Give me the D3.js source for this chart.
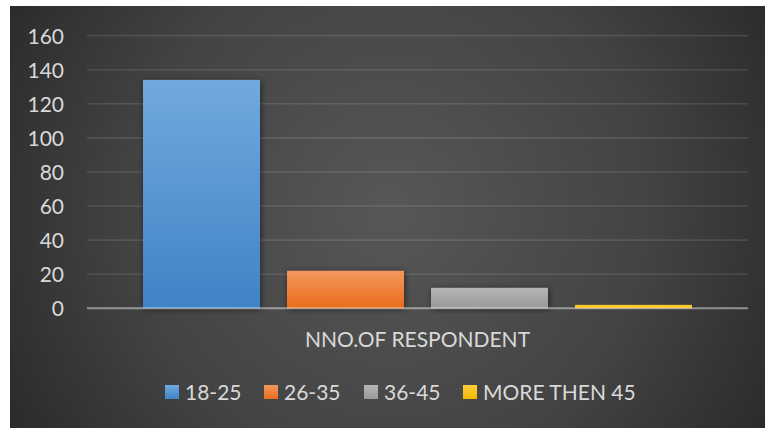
<!DOCTYPE html>
<html>
<head>
<meta charset="utf-8">
<script src="https://cdn.jsdelivr.net/npm/d3@7"></script>
<style>
  html, body { margin: 0; padding: 0; background: #ffffff; }
  svg { display: block; }
  text { font-family: Lato, "Open Sans", sans-serif; fill: #d9d9d9; }
</style>
</head>
<body>
<svg id="chart" width="765" height="428"></svg>
<script>
// Respondents by age group
const categories = ["NNO.OF RESPONDENT"];
const series = ["18-25", "26-35", "36-45", "MORE THEN 45"];
const values = [134, 22, 12, 2];
const yTicks = [0, 20, 40, 60, 80, 100, 120, 140, 160];
const colorsTop = ["#72a9de", "#f4975e", "#b5b5b5", "#ffcf3a"];
const colorsBottom = ["#3f83c6", "#e86c1a", "#999999", "#f2b800"];

const W = 765, H = 428;
const svg = d3.select("#chart");
const defs = svg.append("defs");

// background: dark with a soft lighter centre
const bg = defs.append("radialGradient").attr("id", "bg")
  .attr("gradientUnits", "userSpaceOnUse")
  .attr("cx", 390).attr("cy", 210).attr("r", 470);
bg.append("stop").attr("offset", "0").attr("stop-color", "#575757");
bg.append("stop").attr("offset", "0.55").attr("stop-color", "#434343");
bg.append("stop").attr("offset", "1").attr("stop-color", "#262626");

series.forEach((s, i) => {
  const g = defs.append("linearGradient").attr("id", "bar" + i)
    .attr("x1", 0).attr("y1", 0).attr("x2", 0).attr("y2", 1);
  g.append("stop").attr("offset", "0").attr("stop-color", colorsTop[i]);
  g.append("stop").attr("offset", "1").attr("stop-color", colorsBottom[i]);
});

const shadow = defs.append("filter").attr("id", "shadow")
  .attr("x", "-20%").attr("y", "-20%").attr("width", "140%").attr("height", "140%");
shadow.append("feDropShadow").attr("dx", 1).attr("dy", 1)
  .attr("stdDeviation", 3).attr("flood-color", "#000").attr("flood-opacity", 0.55);

svg.append("rect").attr("x", 10).attr("y", 6)
  .attr("width", W - 10).attr("height", H - 6).attr("fill", "url(#bg)");

const plot = { left: 87, right: 748, top: 35.6, bottom: 308.3 };

const y = d3.scaleLinear().domain([0, 160]).range([plot.bottom, plot.top]);
const x0 = d3.scaleBand().domain(categories).range([plot.left, plot.right]).padding(0);
const x1 = d3.scaleBand().domain(series).range([0, x0.bandwidth()])
  .paddingInner(0.1875).paddingOuter(0.389);

// gridlines and tick labels
const yAxis = d3.axisLeft(y).tickValues(yTicks).tickSize(0).tickPadding(0);
const gy = svg.append("g").attr("transform", `translate(64,0)`).call(yAxis);
gy.select(".domain").remove();
gy.selectAll("text").attr("font-size", 21).attr("fill", "#d9d9d9")
  .attr("dy", "0.36em").attr("text-anchor", "end")
  .style("font-family", "Lato, 'Open Sans', sans-serif");

svg.append("g").selectAll("line").data(yTicks.filter(t => t > 0)).join("line")
  .attr("x1", plot.left).attr("x2", plot.right)
  .attr("y1", d => y(d)).attr("y2", d => y(d))
  .attr("stroke", "rgba(255,255,255,0.11)").attr("stroke-width", 1.6);

// bars
const groups = svg.append("g").selectAll("g").data(categories).join("g")
  .attr("transform", d => `translate(${x0(d)},0)`);
groups.selectAll("rect").data(() => series.map((s, i) => ({ s, v: values[i], i })))
  .join("rect")
  .attr("x", d => x1(d.s)).attr("width", x1.bandwidth())
  .attr("y", d => y(d.v)).attr("height", d => y(0) - y(d.v))
  .attr("fill", d => `url(#bar${d.i})`)
  .attr("filter", "url(#shadow)");

// baseline
svg.append("line").attr("x1", plot.left).attr("x2", plot.right)
  .attr("y1", y(0)).attr("y2", y(0))
  .attr("stroke", "rgba(255,255,255,0.45)").attr("stroke-width", 2);

// category label
const xAxis = d3.axisBottom(x0).tickSize(0).tickPadding(0);
const gx = svg.append("g").attr("transform", `translate(0,347)`).call(xAxis);
gx.select(".domain").remove();
gx.selectAll("text").attr("font-size", 21).attr("fill", "#d9d9d9")
  .attr("dy", 0).attr("y", 0)
  .style("font-family", "Lato, 'Open Sans', sans-serif");

// legend
const legendX = [165, 264, 364, 463];
const legend = svg.append("g").selectAll("g").data(series).join("g")
  .attr("transform", (d, i) => `translate(${legendX[i]},385)`);
legend.append("rect").attr("width", 14).attr("height", 14)
  .attr("fill", (d, i) => `url(#bar${i})`);
legend.append("text").attr("x", 20).attr("y", 15)
  .attr("font-size", 21).text(d => d);
</script>
</body>
</html>
